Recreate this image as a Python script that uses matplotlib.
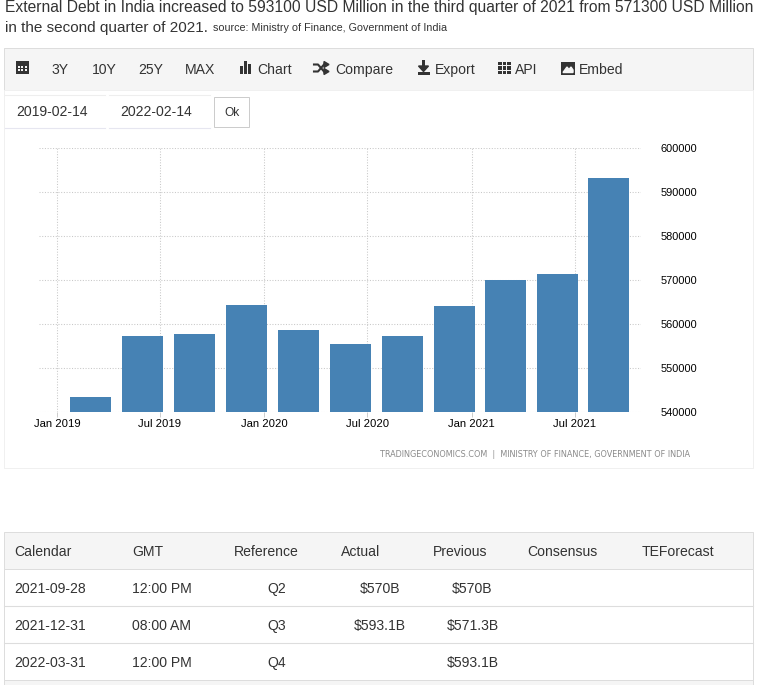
import datetime as dt
import matplotlib
matplotlib.use("Agg")
import matplotlib.pyplot as plt
import matplotlib.dates as mdates
from matplotlib.patches import Rectangle

W, H = 759, 685
plt.rcParams['font.family'] = ['Liberation Sans', 'DejaVu Sans']

# ---- data
quarters = ["2019-03-01", "2019-06-01", "2019-09-01", "2019-12-01", "2020-03-01", "2020-06-01",
            "2020-09-01", "2020-12-01", "2021-03-01", "2021-06-01", "2021-08-30"]
debt = [543300, 557100, 557600, 564200, 558500, 555300, 557100, 564000, 570000, 571300, 593100]
y_ticks = [540000, 550000, 560000, 570000, 580000, 590000, 600000]
x_tick_dates = ["2019-01-01", "2019-07-01", "2020-01-01", "2020-07-01", "2021-01-01", "2021-07-01"]
toolbar_ranges = ["3Y", "10Y", "25Y", "MAX"]
toolbar_tools = ["Chart", "Compare", "Export", "API", "Embed"]
date_inputs = ["2019-02-14", "2022-02-14"]
table_header = ["Calendar", "GMT", "Reference", "Actual", "Previous", "Consensus", "TEForecast"]
table_dates = ["2021-09-28", "2021-12-31", "2022-03-31"]
table_times = ["12:00 PM", "08:00 AM", "12:00 PM"]
table_refs = ["Q2", "Q3", "Q4"]
table_actual = ["$570B", "$593.1B", ""]
table_prev = ["$570B", "$571.3B", "$593.1B"]

TXT = "#333333"
BAR = "#4682b4"
px = lambda p: p * 0.72  # css px -> pt at dpi 100

fig = plt.figure(figsize=(W / 100, H / 100), dpi=100, facecolor="white")
bg = fig.add_axes([0, 0, 1, 1])
bg.set_xlim(1, W + 1)
bg.set_ylim(H + 1, 1)
bg.axis("off")


def box(x0, y0, x1, y1, fc="white", ec="#dddddd", lw=0.72, z=1):
    bg.add_patch(Rectangle((x0, y0), x1 - x0, y1 - y0, fc=fc, ec=ec, lw=lw, zorder=z))


def label(x, base, s, size=14, color=TXT, ha="left", **kw):
    bg.text(x, base, s, fontsize=px(size), color=color, ha=ha, va="baseline", zorder=5, **kw)


# ---- headline
label(6, 12.7, "External Debt in India increased to 593100 USD Million in the third quarter of 2021 from 571300 USD Million", size=15.64)
label(6, 32.7, "in the second quarter of 2021.", size=15.3)
label(214, 32, "source: Ministry of Finance, Government of India", size=10.7)

# ---- toolbar
box(4.5, 48.5, 753.5, 90.5, fc="#f5f5f5", ec="#dddddd")
# calendar icon
bg.add_patch(Rectangle((17, 62), 13, 13, fc="#333333", ec="none", zorder=5))
for gx in (19, 22, 25.5):
    for gy in (67, 70):
        bg.add_patch(Rectangle((gx, gy), 2, 1.6, fc="#f5f5f5", ec="none", zorder=6))
for x, s in zip([53, 93, 139, 186], toolbar_ranges):
    label(x, 75, s)
for x, s in zip([258, 336.5, 436, 516, 580], toolbar_tools):
    label(x, 75, s)
# chart icon
for x, y0, h in [(241, 67, 8), (245, 62, 13), (249, 65, 10)]:
    bg.add_patch(Rectangle((x, y0), 3, h, fc="#333333", ec="none", zorder=5))
# compare (shuffle) icon
bg.plot([315, 319, 325], [65.5, 65.5, 72.5], color="#333333", lw=1.5, zorder=5)
bg.plot([315, 319, 325], [72.5, 72.5, 65.5], color="#333333", lw=1.5, zorder=5)
bg.fill([325, 330, 325], [62.5, 65.5, 68.5], color="#333333", zorder=5)
bg.fill([325, 330, 325], [69.5, 72.5, 75.5], color="#333333", zorder=5)
# export icon
bg.add_patch(Rectangle((423, 61), 3, 7, fc="#333333", ec="none", zorder=5))
bg.fill([419.5, 429.5, 424.5], [67, 67, 72.5], color="#333333", zorder=5)
bg.add_patch(Rectangle((419, 73), 12, 2.5, fc="#333333", ec="none", zorder=5))
# api icon
for gx in (499, 503.5, 508):
    for gy in (62.5, 67, 71.5):
        bg.add_patch(Rectangle((gx, gy), 3.6, 3.6, fc="#333333", ec="none", zorder=5))
# embed icon
bg.add_patch(Rectangle((562, 62.5), 14, 13, fc="#333333", ec="none", zorder=5))
bg.fill([564, 568, 570, 572, 574, 574, 564], [73.5, 68, 70.5, 68, 71, 73.5, 73.5], color="#f5f5f5", zorder=6)

# ---- chart panel
box(4.5, 90.5, 753.5, 469.5, fc="white", ec="#f0f0f0")
for x0, x1, s in zip([5.5, 110], [106, 210.5], date_inputs):
    bg.plot([x0, x1], [96.5, 96.5], color="#eeeeee", lw=0.8, zorder=3)
    bg.plot([x0, x1], [129.5, 129.5], color="#e6e6f0", lw=0.8, zorder=3)
    label(x0 + 11.5, 117.5, s)
box(215, 98, 250, 128, fc="white", ec="#cccccc")
label(233, 117, "Ok", size=12, ha="center")
label(691.5, 458.5, "TRADINGECONOMICS.COM  |  MINISTRY OF FINANCE, GOVERNMENT OF INDIA",
      size=9, color="#8a8a8a", ha="right", family=["DejaVu Sans"], fontstretch="condensed")

# ---- plot
L, R, T, B = 39, 641, 147.5, 411.5
ax = fig.add_axes([L / W, 1 - B / H, (R - L) / W, (B - T) / H], facecolor="none")
to_num = lambda s: mdates.date2num(dt.date.fromisoformat(s))
ppd = 0.5675
t0 = to_num(x_tick_dates[0])
ax.set_xlim(t0 - 18 / ppd, t0 + (R - L - 18) / ppd)
ax.set_ylim(y_ticks[0], y_ticks[-1])
ax.bar([to_num(q) for q in quarters], debt, width=41 / ppd, color=BAR, zorder=3)
ax.set_yticks(y_ticks)
ax.yaxis.tick_right()
ax.set_xticks([to_num(d) for d in x_tick_dates])
ax.set_xticklabels([dt.date.fromisoformat(d).strftime("%b %Y") for d in x_tick_dates])
ax.tick_params(axis="y", length=0, pad=px(19.5), labelsize=px(11), labelcolor="black")
ax.tick_params(axis="x", length=px(5), width=0.7, color="#cccccc", pad=px(2), labelsize=px(11.2), labelcolor="black")
ax.grid(True, color="#c8c8c8", lw=0.75, linestyle=(0, (1, 1.6)), zorder=0)
ax.set_axisbelow(True)
for s in ax.spines.values():
    s.set_visible(False)

# ---- table
box(4.5, 533.5, 753.5, 570.5, fc="#f5f5f5", ec="#dddddd")
box(4.5, 570.5, 753.5, 681.5, fc="white", ec="#dddddd")
box(4.5, 681.5, 753.5, 691, fc="#f5f5f5", ec="#dddddd")
for yy in (607.5, 644.5):
    bg.plot([4.5, 753.5], [yy, yy], color="#dddddd", lw=0.8, zorder=3)
for x, s in zip([15, 133, 235, 342, 434, 528, 643], table_header):
    label(x, 557, s)
for i, yy in enumerate([594.5, 631.5, 668.5]):
    label(15, yy, table_dates[i])
    label(133, yy, table_times[i])
    label(278, yy, table_refs[i], ha="center")
    label(381, yy, table_actual[i], ha="center")
    label(473.5, yy, table_prev[i], ha="center")

fig.savefig("out.png", dpi=100)
